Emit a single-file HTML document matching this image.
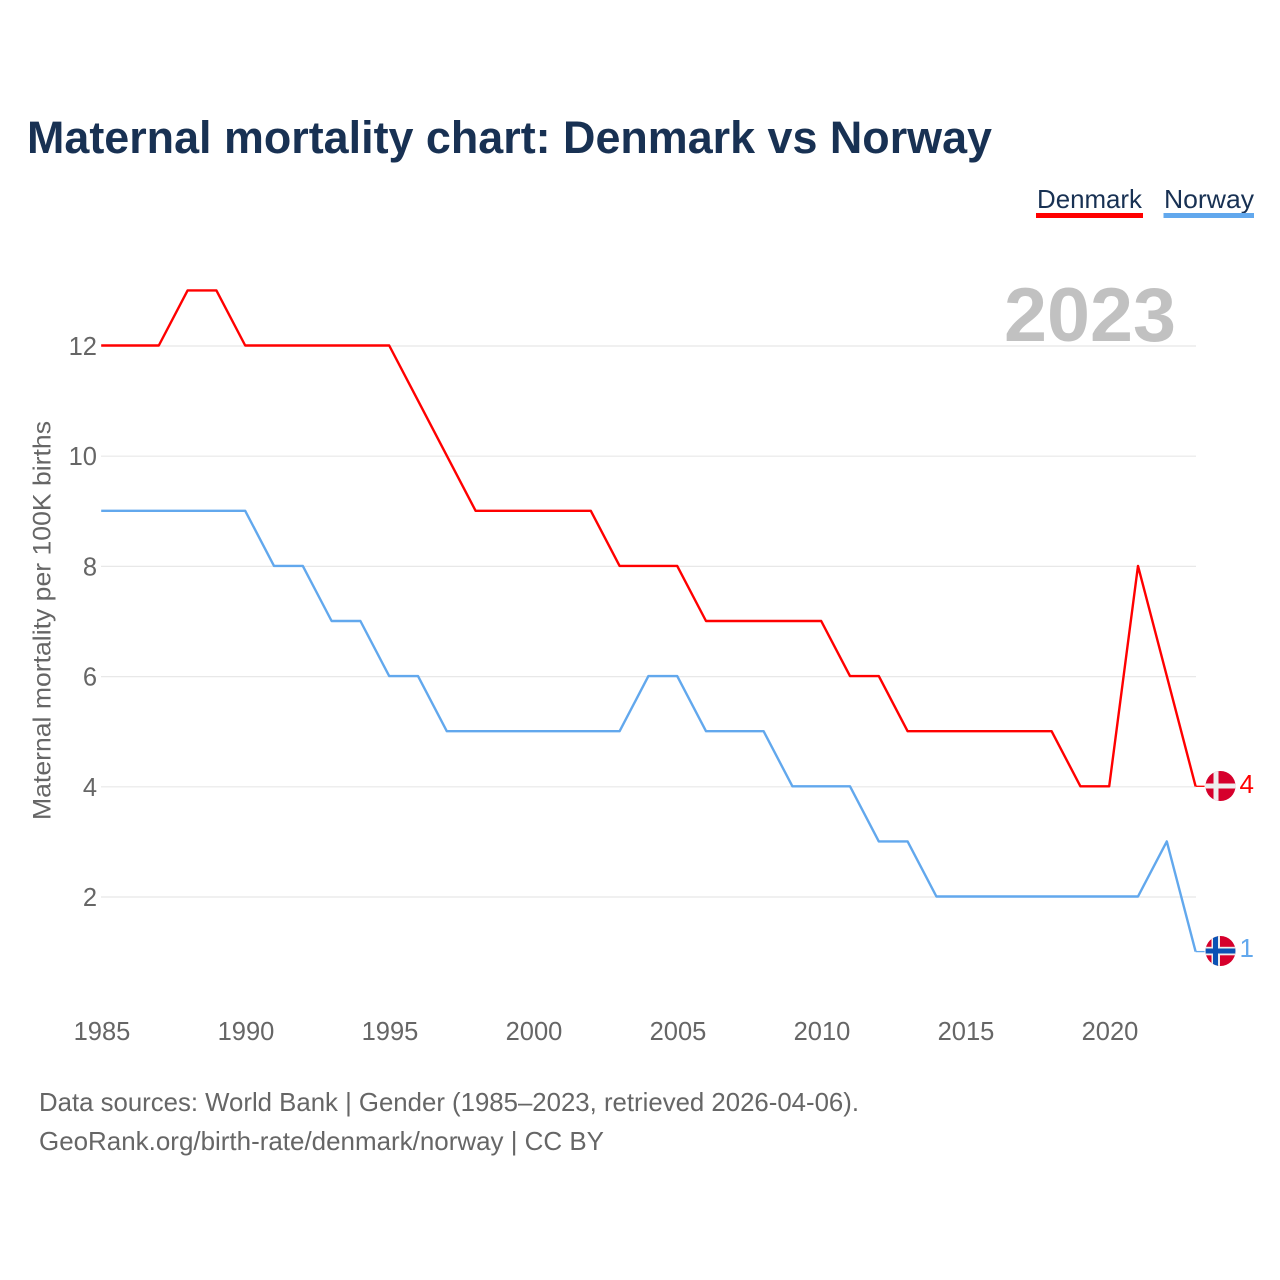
<!DOCTYPE html>
<html><head><meta charset="utf-8"><style>
html,body{margin:0;padding:0;background:#fff}
svg{display:block;font-family:"Liberation Sans",sans-serif}
</style></head><body>
<svg id="chart" width="1280" height="1280" viewBox="0 0 1280 1280" xmlns="http://www.w3.org/2000/svg">
<defs>
<clipPath id="flag-clip-dk"><circle cx="1220.5" cy="786" r="15"/></clipPath>
<clipPath id="flag-clip-no"><circle cx="1220.5" cy="951" r="15"/></clipPath>
</defs>
<text x="27" y="153" font-size="45" font-weight="700" fill="#183153" textLength="965" lengthAdjust="spacingAndGlyphs">Maternal mortality chart: Denmark vs Norway</text>
<g>
<text x="1037" y="208" font-size="26" fill="#183153" textLength="105" lengthAdjust="spacingAndGlyphs">Denmark</text>
<rect x="1036" y="213" width="107" height="5" fill="#ff0000"/>
</g>
<g>
<text x="1164" y="208" font-size="26" fill="#183153" textLength="90" lengthAdjust="spacingAndGlyphs">Norway</text>
<rect x="1163.5" y="213" width="90.500" height="5" fill="#62a8ed"/>
</g>
<g id="grid"></g>
<text x="1004" y="341" font-size="76" font-weight="700" fill="#c1c1c1" textLength="172" lengthAdjust="spacingAndGlyphs">2023</text>
<g id="yticks"></g>
<g id="xticks"></g>
<text transform="translate(50.5,820) rotate(-90)" font-size="25" fill="#666" textLength="399" lengthAdjust="spacingAndGlyphs">Maternal mortality per 100K births</text>
<g id="lines"></g>
<g clip-path="url(#flag-clip-dk)">
<rect x="1205" y="770" width="31" height="32" fill="#d6002c"/>
<rect x="1213.500" y="770" width="5" height="32" fill="#eee"/>
<rect x="1205" y="783.500" width="31" height="5" fill="#eee"/>
</g>
<g clip-path="url(#flag-clip-no)">
<rect x="1205" y="935" width="31" height="32" fill="#d6002c"/>
<rect x="1211.500" y="935" width="8.500" height="32" fill="#eee"/>
<rect x="1205" y="946.800" width="31" height="8.500" fill="#eee"/>
<rect x="1213" y="935" width="5" height="32" fill="#0b52b4"/>
<rect x="1205" y="948.500" width="31" height="5" fill="#0b52b4"/>
</g>
<text id="label-dk" x="1239.500" y="793" font-size="26" fill="#ff0000"></text>
<text id="label-no" x="1239.500" y="957" font-size="26" fill="#62a8ed"></text>
<text x="39" y="1111" font-size="26" fill="#666" textLength="820" lengthAdjust="spacingAndGlyphs">Data sources: World Bank | Gender (1985–2023, retrieved 2026-04-06).</text>
<text x="39" y="1150" font-size="26" fill="#666" textLength="565" lengthAdjust="spacingAndGlyphs">GeoRank.org/birth-rate/denmark/norway | CC BY</text>
</svg>
<script>
const years = [1985,1986,1987,1988,1989,1990,1991,1992,1993,1994,1995,1996,1997,1998,1999,2000,2001,2002,2003,2004,2005,2006,2007,2008,2009,2010,2011,2012,2013,2014,2015,2016,2017,2018,2019,2020,2021,2022,2023];
const denmarkValues = [12,12,12,13,13,12,12,12,12,12,12,11,10,9,9,9,9,9,8,8,8,7,7,7,7,7,6,6,5,5,5,5,5,5,4,4,8,6,4];
const norwayValues = [9,9,9,9,9,9,8,8,7,7,6,6,5,5,5,5,5,5,5,6,6,5,5,5,4,4,4,3,3,2,2,2,2,2,2,2,2,3,1];
const yTickLabels = [2,4,6,8,10,12];
const xTickLabels = [1985,1990,1995,2000,2005,2010,2015,2020];

const NS = 'http://www.w3.org/2000/svg';
function xScale(year) { return 101.5 + (year - 1985) * 28.8; }
function yScale(value) { return 1007.2 - value * 55.1; }
const gridGroup = document.getElementById('grid');
const yGroup = document.getElementById('yticks');
const xGroup = document.getElementById('xticks');
const lineGroup = document.getElementById('lines');

yTickLabels.forEach(function (v) {
  const line = document.createElementNS(NS, 'line');
  
  
  line.setAttribute('x1', 101);
  line.setAttribute('x2', 1196);
  line.setAttribute('y1', yScale(v));
  line.setAttribute('y2', yScale(v));
  line.setAttribute('stroke', '#e8e8e8');
  line.setAttribute('stroke-width', 1.2);
  gridGroup.appendChild(line);
  const label = document.createElementNS(NS, 'text');
  
  
  label.setAttribute('x', 97);
  label.setAttribute('y', yScale(v) + 9);
  label.setAttribute('text-anchor', 'end');
  label.setAttribute('font-size', 25.5);
  label.setAttribute('fill', '#666');
  label.textContent = v;
  yGroup.appendChild(label);
});

xTickLabels.forEach(function (year) {
  const label = document.createElementNS(NS, 'text');
  
  
  label.setAttribute('x', xScale(year) + 0.5);
  label.setAttribute('y', 1040);
  label.setAttribute('text-anchor', 'middle');
  label.setAttribute('font-size', 25.5);
  label.setAttribute('fill', '#666');
  label.textContent = year;
  xGroup.appendChild(label);
});

function drawSeries(values, color) {
  const pts = values.map(function (v, i) { return (xScale(years[i]) - 0.3) + ',' + (yScale(v) - 0.5); });
  const path = document.createElementNS(NS, 'polyline');
  path.setAttribute('points', pts.join(' '));
  path.setAttribute('fill', 'none');
  path.setAttribute('stroke', color);
  path.setAttribute('stroke-width', 2.4);
  path.setAttribute('stroke-linejoin', 'round');
  return path;
}
function drawStub(values, color) {
  const last = values[values.length - 1];
  const lastX = xScale(years[years.length - 1]) - 0.3;
  const stub = document.createElementNS(NS, 'line');
  stub.setAttribute('x1', lastX);
  stub.setAttribute('x2', lastX + 9);
  stub.setAttribute('y1', yScale(last) - 0.5);
  stub.setAttribute('y2', yScale(last) - 0.5);
  stub.setAttribute('stroke', color);
  stub.setAttribute('stroke-width', 1.3);
  return stub;
}
const denmarkLine = drawSeries(denmarkValues, '#ff0000');


lineGroup.appendChild(denmarkLine);
const norwayLine = drawSeries(norwayValues, '#62a8ed');


lineGroup.appendChild(norwayLine);
const denmarkStub = drawStub(denmarkValues, '#ff0000');


lineGroup.appendChild(denmarkStub);
const norwayStub = drawStub(norwayValues, '#62a8ed');


lineGroup.appendChild(norwayStub);
document.getElementById('label-dk').textContent = denmarkValues[denmarkValues.length - 1];
document.getElementById('label-no').textContent = norwayValues[norwayValues.length - 1];
</script>
</body></html>
